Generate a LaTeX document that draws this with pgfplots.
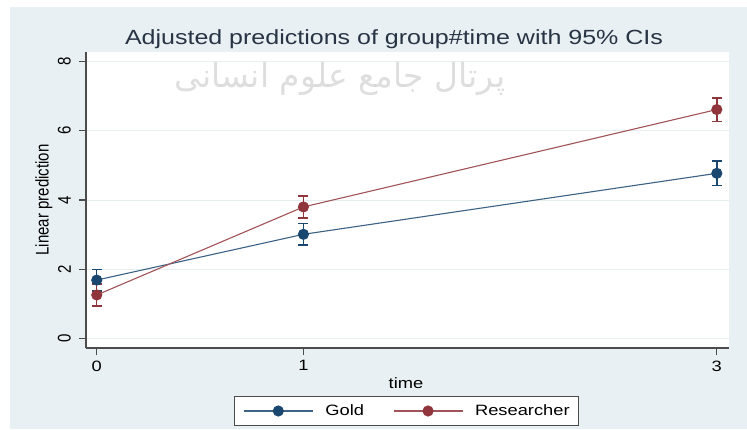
\documentclass[border=0pt]{standalone}
\usepackage{pgfplots}
\pgfplotsset{compat=1.18}
\usepackage{fontspec}
\usepackage{graphicx}
\setmainfont{Liberation Sans}
\newfontfamily\arabicfont[Script=Arabic]{DejaVu Sans}
\TeXXeTstate=1
\definecolor{bgpanel}{RGB}{232,240,243}
\definecolor{gridc}{RGB}{230,238,240}
\definecolor{goldc}{RGB}{26,71,111}
\definecolor{resc}{RGB}{144,53,59}
\definecolor{titlec}{RGB}{40,52,68}
\newcommand\hs[1]{\scalebox{1.22}[1]{#1}}
\newcommand\vs[1]{\scalebox{1}[1.22]{#1}}
\begin{document}
\begin{tikzpicture}[x=1pt,y=1pt]
\useasboundingbox (0,0) rectangle (747,429);
\fill[white] (0,0) rectangle (747,429);
\fill[bgpanel] (10,0) rectangle (747,422);
\begin{axis}[
  at={(86pt,81pt)}, anchor=south west,
  scale only axis, width=643pt, height=296pt,
  xmin=-0.052, xmax=3.059, ymin=-0.27, ymax=8.27,
  axis x line*=bottom, axis y line*=left,
  axis line style={draw=black!70, line width=1.1pt},
  axis background/.style={fill=white},
  xtick={0,1,3}, xticklabels={\hs{0},\hs{1},\hs{3}},
  ytick={0,2,4,6,8}, yticklabels={\vs{0},\vs{2},\vs{4},\vs{6},\vs{8}},
  tick align=outside, major tick length=7pt,
  tick style={draw=black!70, line width=1.1pt},
  ymajorgrids, grid style={draw=gridc, line width=1pt},
  every tick label/.append style={font=\fontsize{15}{18}\selectfont},
  label style={font=\fontsize{15}{18}\selectfont},
  xticklabel style={anchor=north, yshift=-2pt},
  yticklabel style={rotate=90, anchor=south, inner sep=8pt},
  title={\hs{Adjusted predictions of group\#time with 95\% CIs}},
  title style={at={(axis description cs:0.479,1.006)}, anchor=base, font=\fontsize{20.5}{24}\selectfont, text=titlec, inner sep=0pt},
  ylabel={\vs{Linear prediction}},
  ylabel style={at={(axis description cs:-0.0653,0.5)}, anchor=center},
  xlabel={\hs{time}},
  xlabel style={at={(axis description cs:0.4977,-0.1182)}, anchor=center},
  legend columns=2,
  legend style={at={(axis description cs:0.4984,-0.2128)}, anchor=center,
    draw=black!70, line width=1pt, fill=white, inner xsep=9pt, inner ysep=8pt,
    font=\fontsize{15}{18}\selectfont,
    nodes={inner sep=0pt},
    /tikz/every odd column/.style={column sep=12pt},
    /tikz/every even column/.style={column sep=29pt}},
  legend image code/.code={\draw[mark repeat=2, mark phase=2, #1] plot coordinates {(0pt,0pt) (34.5pt,0pt) (69pt,0pt)};},
]
\addplot[color=goldc!85!white, line width=1.1pt, mark=*, mark size=5pt,
  mark options={fill=goldc, draw=goldc, solid},
  error bars/.cd, y dir=both, y explicit, error mark=|,
  error bar style={draw=goldc, line width=1.5pt},
  error mark options={draw=goldc, line width=1.5pt, mark size=5pt}]
  coordinates {(0,1.69) +- (0,0.31) (1,3.01) +- (0,0.31) (3,4.77) +- (0,0.35)};
\addplot[color=resc!85!white, line width=1.1pt, mark=*, mark size=5pt,
  mark options={fill=resc, draw=resc, solid},
  error bars/.cd, y dir=both, y explicit, error mark=|,
  error bar style={draw=resc, line width=1.5pt},
  error mark options={draw=resc, line width=1.5pt, mark size=5pt}]
  coordinates {(0,1.26) +- (0,0.32) (1,3.80) +- (0,0.32) (3,6.61) +- (0,0.34)};
\legend{\hs{Gold},\hs{Researcher}}
\end{axis}
\node[text=black!18, opacity=0.7] at (340,350) {\fontsize{33}{40}\selectfont\arabicfont\beginR پرتال جامع علوم انسانی\endR};
\end{tikzpicture}
\end{document}
